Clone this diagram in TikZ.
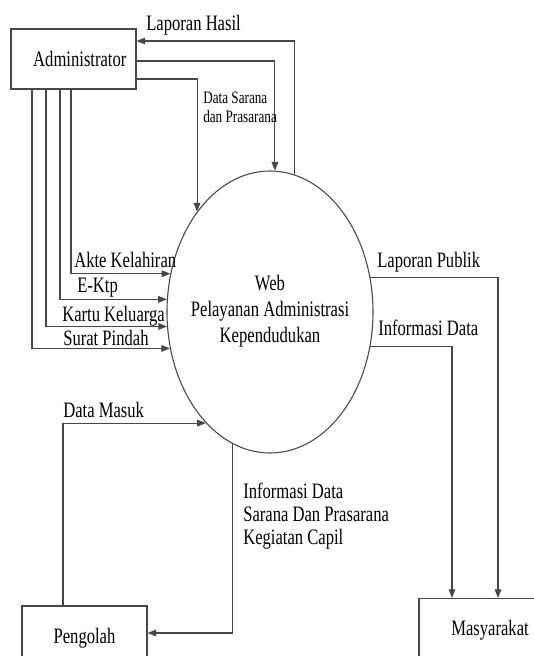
\documentclass[tikz,border=0pt]{standalone}
\usepackage{fontspec}
\setmainfont{Liberation Serif}[FakeStretch=0.755]
\usetikzlibrary{shapes.geometric,arrows.meta}
\begin{document}
\begin{tikzpicture}[x=0.75pt,y=-0.75pt,
  line/.style={draw=black!72, line width=0.8pt},
  flow/.style={line, -{Triangle[length=6.5pt,width=5pt]}},
  box/.style={draw=black!72, line width=0.8pt, rectangle, inner sep=0pt,
    font=\fontsize{16.5}{19}\selectfont},
  lbl/.style={inner sep=0pt, anchor=west, font=\fontsize{16.5}{19}\selectfont},
  lblblock/.style={inner sep=0pt, anchor=west, align=left, font=\fontsize{16.5}{17.25}\selectfont},
  small/.style={inner sep=0pt, anchor=west, align=left, font=\fontsize{13.1}{14.25}\selectfont},
]
\useasboundingbox (0,0) rectangle (534,656);

% nodes
\node[box, minimum width=93.75pt, minimum height=45pt] (admin) at (73.5,59) {\hspace*{9.5pt}Administrator};
\node[box, minimum width=93.75pt, minimum height=48pt] (pengolah) at (84.5,638) {Pengolah};
\node[box, minimum width=106.5pt, minimum height=48pt] (masy) at (490,630.5) {Masyarakat};
\node[ellipse, draw=black!72, line width=0.8pt, minimum width=154.5pt, minimum height=211.5pt, inner sep=0pt] (web) at (270,312) {};
\node[align=center, inner sep=0pt, font=\fontsize{16.5}{19.5}\selectfont] (webtxt) at (270,311)
  {Web\\Pelayanan Administrasi\\Kependudukan};

% connectors from Administrator
\draw[flow] (web.80) |- (admin.east |- 0,41);
\draw[flow] (admin.east |- 0,61) -| (web.88);
\draw[flow] (admin.east |- 0,79) -| (web.126);
\draw[flow] (admin.south -| 71,0) |- (web.159);
\draw[flow] (admin.south -| 60,0) |- (web.173);
\draw[flow] (admin.south -| 46,0) |- (web.188);
\draw[flow] (admin.south -| 32,0) |- (web.200);

% Pengolah
\draw[flow] (pengolah.north -| 63,0) |- (web.240);
\draw[flow] (web.254) |- (pengolah.east |- 0,633);

% Masyarakat
\draw[flow] (web.19) -| (masy.north -| 498,0);
\draw[flow] (web.341) -| (masy.north -| 452,0);

% labels
\node[lbl] (l1) at (146,25) {Laporan Hasil};
\node[small] (l2) at (203,107.5) {Data Sarana\\dan Prasarana};
\node[lbl] (l3) at (74,260) {Akte Kelahiran};
\node[lbl] (l4) at (77,288) {E-Ktp};
\node[lbl] (l5) at (62,316) {Kartu Keluarga};
\node[lbl] (l6) at (63,338) {Surat Pindah};
\node[lbl] (l7) at (63,410) {Data Masuk};
\node[lbl] (l8) at (377,262) {Laporan Publik};
\node[lbl] (l9) at (378,328) {Informasi Data};
\node[lblblock] (l10) at (243,516) {Informasi Data\\Sarana Dan Prasarana\\Kegiatan Capil};
\end{tikzpicture}
\end{document}
